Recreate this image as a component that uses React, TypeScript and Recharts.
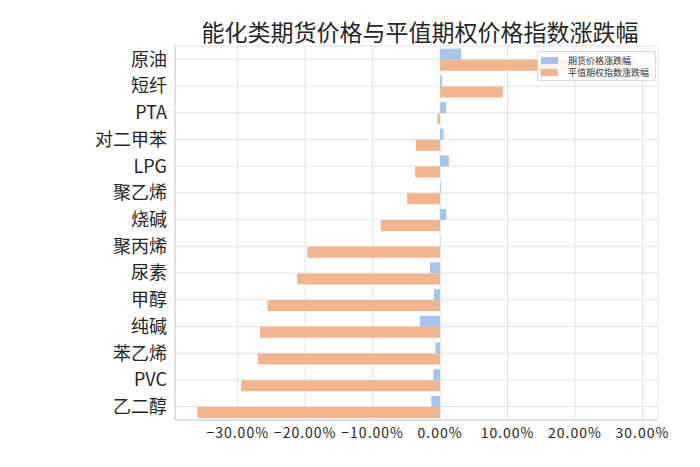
import React from 'react'
import {
  BarChart,
  Bar,
  XAxis,
  YAxis,
  CartesianGrid,
} from 'recharts'

const categories = ['原油', '短纤', 'PTA', '对二甲苯', 'LPG', '聚乙烯', '烧碱', '聚丙烯', '尿素', '甲醇', '纯碱', '苯乙烯', 'PVC', '乙二醇']
const futuresChange = [0.031, 0.003, 0.009, 0.005, 0.013, 0.0015, 0.009, 0.0005, -0.015, -0.009, -0.03, -0.007, -0.01, -0.013]
const optionIndexChange = [0.29, 0.093, -0.004, -0.036, -0.037, -0.049, -0.088, -0.197, -0.212, -0.256, -0.267, -0.27, -0.295, -0.36]
const xTicks = [-0.3, -0.2, -0.1, 0, 0.1, 0.2, 0.3]

const seriesNames = ['期货价格涨跌幅', '平值期权指数涨跌幅']
const colors = ['#a6c4ec', '#f2b68e']

const data = categories.map((name, i) => ({
  name,
  futures: futuresChange[i],
  option: optionIndexChange[i],
}))

const font = '"Noto Sans CJK SC", "Noto Sans", sans-serif'
const pct = (v: number) => `${(v * 100).toFixed(2)}%`.replace('-', '−')
const domain: [number, number] = [-0.393, 0.323]

export default function App() {
  return (
    <div style={{ position: 'absolute', left: 0, top: 0, width: 700, height: 467, background: '#fff' }}>
      <div style={{ position: 'absolute', left: 0, width: 840, top: 16, textAlign: 'center', fontFamily: font, fontSize: 23, color: '#262626', lineHeight: '30px' }}>
        能化类期货价格与平值期权价格指数涨跌幅
      </div>
      <BarChart
        width={700}
        height={467}
        data={data}
        layout="vertical"
        margin={{ top: 46, right: 42, bottom: 17, left: 0 }}
        barCategoryGap="10%"
        barGap={0}
      >
        <CartesianGrid stroke="#e3e3e3" />
        <XAxis
          type="number"
          domain={domain}
          ticks={xTicks}
          interval={0}
          tickFormatter={pct}
          height={30}
          tick={{ fontSize: 14, fill: '#262626', fontFamily: font, letterSpacing: 1 }}
          tickLine={false}
          axisLine={{ stroke: '#d0d0d0' }}
          allowDataOverflow
        />
        <XAxis xAxisId="top" type="number" orientation="top" domain={domain} height={0} tick={false} tickLine={false} axisLine={{ stroke: '#d0d0d0' }} allowDataOverflow />
        <YAxis
          type="category"
          dataKey="name"
          width={175}
          interval={0}
          tick={{ fontSize: 18, fill: '#262626', fontFamily: font }}
          tickLine={false}
          axisLine={{ stroke: '#d0d0d0' }}
        />
        <YAxis yAxisId="right" type="category" dataKey="name" orientation="right" width={0} tick={false} tickLine={false} axisLine={{ stroke: '#d0d0d0' }} />
        <Bar dataKey="futures" name={seriesNames[0]} fill={colors[0]} isAnimationActive={false} />
        <Bar dataKey="option" name={seriesNames[1]} fill={colors[1]} isAnimationActive={false} />
      </BarChart>
      <div style={{ position: 'absolute', left: 537, top: 51, background: 'rgba(255,255,255,0.85)', border: '1px solid #d8d8d8', borderRadius: 3, padding: '2px 6px 2px 3px', fontFamily: font, fontSize: 9, color: '#333' }}>
        {seriesNames.map((n, i) => (
          <div key={n} style={{ display: 'flex', alignItems: 'center', height: 12 }}>
            <span style={{ display: 'inline-block', width: 17, height: 7, background: colors[i], marginRight: 10 }} />
            {n}
          </div>
        ))}
      </div>
    </div>
  )
}
